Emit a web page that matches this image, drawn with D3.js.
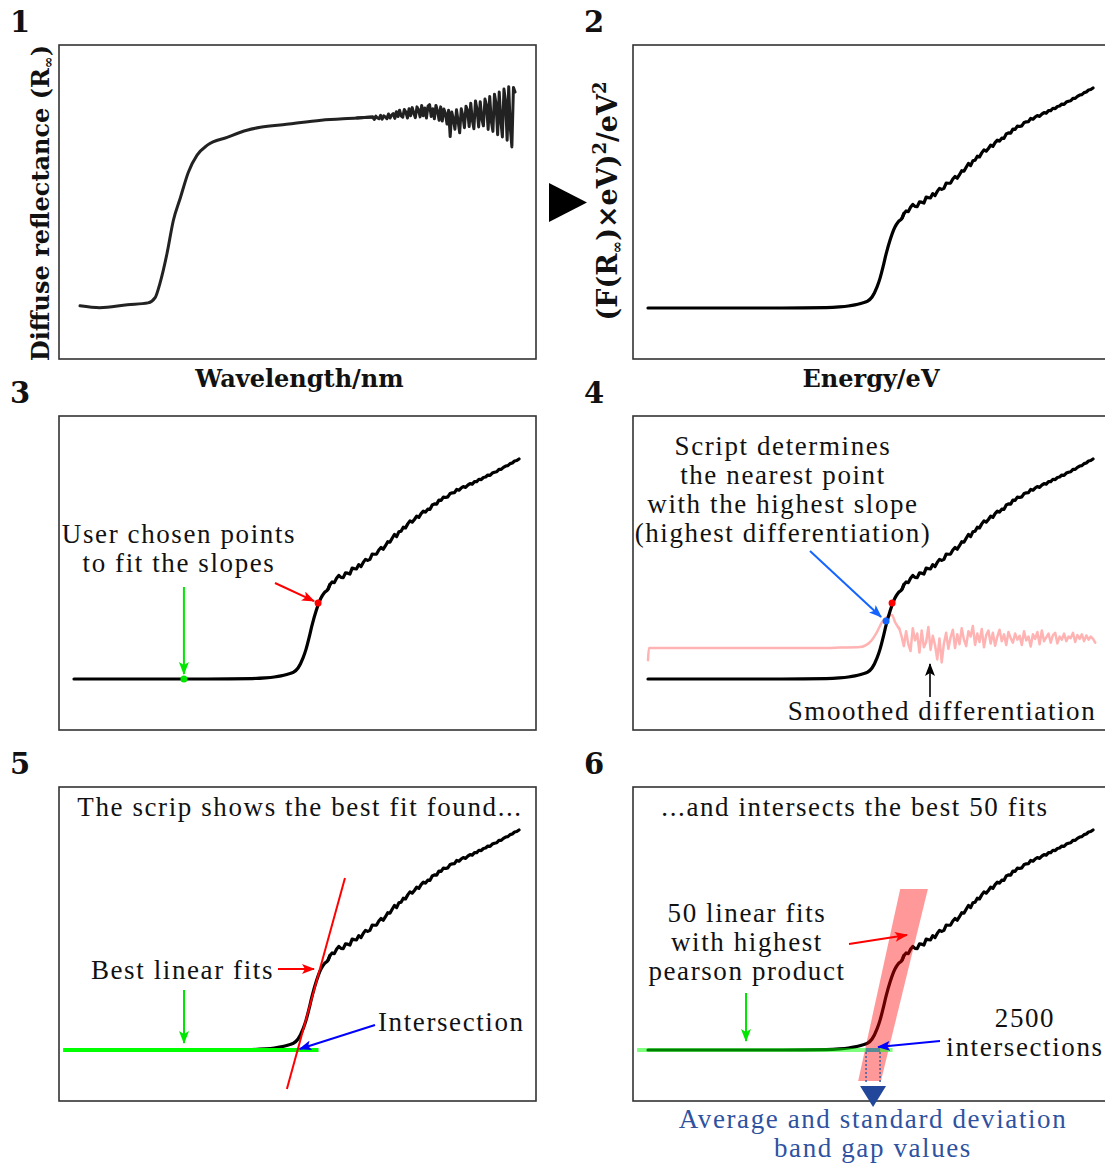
<!DOCTYPE html>
<html>
<head>
<meta charset="utf-8">
<title>Band gap from diffuse reflectance</title>
<script src="https://d3js.org/d3.v7.min.js"></script>
<style>
  body { margin: 0; background: #fff; }
  .note { font-family: "Liberation Serif", "Times New Roman", serif; font-size: 27px; letter-spacing: 1.6px; fill: #111; }
  .lab { font-family: "DejaVu Serif", serif; font-weight: bold; font-size: 24px; fill: #111; }
  .num { font-family: "DejaVu Serif", serif; font-weight: bold; font-size: 29px; fill: #111; }
</style>
</head>
<body>
<script>
// ---- data ----
// panel 1: diffuse reflectance vs wavelength (nm)
const reflW = [250, 275, 310, 336, 345, 351, 360, 368, 377, 387, 398, 411, 436, 461, 478, 511, 555, 600,
  620, 622, 624, 626, 628, 630, 632, 634, 636, 638, 640, 642, 644, 646, 648, 650, 652, 654, 656, 658,
  660, 662, 664, 666, 668, 670, 672, 674, 676, 678, 680, 682, 684, 686, 688, 690, 692, 694, 696, 698,
  700, 702, 704, 706, 708, 710, 712, 714, 716, 718, 720, 722, 724, 726, 728, 730, 732, 734, 736, 738,
  740, 742, 744, 746, 748, 750, 752, 754, 756, 758, 760, 762, 764, 766, 768, 770, 772, 774, 776, 778,
  780, 782, 784, 786, 788, 790, 792, 794, 796, 798, 800];
const reflR = [0.100, 0.095, 0.103, 0.108, 0.122, 0.160, 0.241, 0.330, 0.392, 0.460, 0.506, 0.533, 0.554, 0.573, 0.581, 0.589, 0.600, 0.606,
  0.609, 0.602, 0.611, 0.606, 0.604, 0.613, 0.603, 0.612, 0.609, 0.604, 0.617, 0.606, 0.614, 0.618, 0.605, 0.623, 0.610, 0.627, 0.612, 0.608,
  0.629, 0.622, 0.606, 0.631, 0.612, 0.634, 0.619, 0.607, 0.636, 0.628, 0.609, 0.640, 0.612, 0.633, 0.606, 0.638, 0.642, 0.610, 0.631, 0.604,
  0.640, 0.625, 0.600, 0.636, 0.598, 0.630, 0.618, 0.590, 0.627, 0.556, 0.622, 0.604, 0.576, 0.628, 0.598, 0.566, 0.631, 0.612, 0.580, 0.638,
  0.626, 0.583, 0.646, 0.600, 0.577, 0.652, 0.628, 0.582, 0.650, 0.604, 0.585, 0.657, 0.640, 0.575, 0.664, 0.598, 0.570, 0.670, 0.645, 0.561,
  0.676, 0.600, 0.555, 0.684, 0.650, 0.546, 0.690, 0.580, 0.528, 0.688, 0.676];
const reflSmoothEnd = 18; // index where the noisy tail begins

// panels 2-6: Tauc plot, energy (eV) vs (F(R)*E)^2, normalised
const taucE = [2.00, 2.30, 2.60, 2.80, 2.86, 2.90, 2.93, 2.96, 2.985, 3.007, 3.029, 3.043, 3.056, 3.070, 3.088, 3.110, 3.125, 3.142,
  3.15, 3.16, 3.17, 3.18, 3.19, 3.20, 3.21, 3.22, 3.23, 3.24, 3.25, 3.26, 3.27, 3.28, 3.29, 3.30, 3.31, 3.32, 3.33, 3.34,
  3.35, 3.36, 3.37, 3.38, 3.39, 3.40, 3.41, 3.42, 3.43, 3.44, 3.45, 3.46, 3.47, 3.48, 3.49, 3.50, 3.51, 3.52, 3.53, 3.54,
  3.55, 3.56, 3.57, 3.58, 3.59, 3.60, 3.61, 3.62, 3.63, 3.64, 3.65, 3.66, 3.67, 3.68, 3.69, 3.70, 3.71, 3.72, 3.73, 3.74,
  3.75, 3.76, 3.77, 3.78, 3.79, 3.80, 3.81, 3.82, 3.83, 3.84, 3.85, 3.86, 3.87, 3.88, 3.89, 3.90, 3.91, 3.92, 3.93, 3.94,
  3.95, 3.96, 3.97, 3.98, 3.99, 4.00];
const taucV = [0, 0, 0, 0.002, 0.005, 0.009, 0.014, 0.022, 0.030, 0.050, 0.095, 0.136, 0.186, 0.245, 0.309, 0.368, 0.392, 0.409,
  0.429, 0.441, 0.438, 0.458, 0.471, 0.462, 0.461, 0.482, 0.481, 0.477, 0.504, 0.502, 0.501, 0.520, 0.511, 0.530, 0.544, 0.539, 0.544, 0.568,
  0.567, 0.568, 0.586, 0.598, 0.590, 0.606, 0.624, 0.622, 0.640, 0.657, 0.647, 0.669, 0.672, 0.690, 0.687, 0.705, 0.719, 0.713, 0.725, 0.740,
  0.735, 0.752, 0.763, 0.759, 0.772, 0.771, 0.791, 0.796, 0.795, 0.813, 0.812, 0.827, 0.825, 0.828, 0.843, 0.846, 0.847, 0.862, 0.858, 0.868,
  0.875, 0.871, 0.881, 0.888, 0.886, 0.897, 0.897, 0.908, 0.906, 0.916, 0.918, 0.927, 0.926, 0.936, 0.940, 0.942, 0.953, 0.953, 0.962, 0.968,
  0.970, 0.979, 0.982, 0.991, 0.993, 1.000];
const taucSmoothEnd = 18;

// panel 4: smoothed differentiation
const derivE = [2.000, 2.004, 2.50, 2.80, 2.863, 2.953, 2.998, 3.029, 3.052, 3.074, 3.097, 3.110, 3.124,
  3.13, 3.14, 3.15, 3.16, 3.17, 3.18, 3.19, 3.20, 3.21, 3.22, 3.23, 3.24, 3.25, 3.26, 3.27, 3.28, 3.29, 3.30,
  3.31, 3.32, 3.33, 3.34, 3.35, 3.36, 3.37, 3.38, 3.39, 3.40, 3.41, 3.42, 3.43, 3.44, 3.45, 3.46, 3.47, 3.48,
  3.49, 3.50, 3.51, 3.52, 3.53, 3.54, 3.55, 3.56, 3.57, 3.58, 3.59, 3.60, 3.61, 3.62, 3.63, 3.64, 3.65, 3.66,
  3.67, 3.68, 3.69, 3.70, 3.71, 3.72, 3.73, 3.74, 3.75, 3.76, 3.77, 3.78, 3.79, 3.80, 3.81, 3.82, 3.83, 3.84,
  3.85, 3.86, 3.87, 3.88, 3.89, 3.90, 3.91, 3.92, 3.93, 3.94, 3.95, 3.96, 3.97, 3.98, 3.99, 4.00, 4.01];
const derivD = [-0.32, 0, 0, 0, 0.01, 0.026, 0.158, 0.421, 0.684, 0.816, 0.868, 0.684, 0.553,
  0.50, 0.30, 0.05, 0.44, 0.10, -0.08, 0.52, 0.20, 0.38, -0.12, 0.46, 0.02, 0.15, 0.55, -0.05, 0.32, 0.08, -0.30,
  0.25, -0.38, 0.12, 0.40, -0.02, 0.28, 0.48, 0.00, 0.36, 0.10, 0.52, 0.22, 0.05, 0.44, 0.30, 0.58, 0.08, 0.38,
  0.16, 0.50, 0.02, 0.34, 0.46, 0.12, 0.40, 0.06, 0.30, 0.48, 0.18, 0.36, 0.08, 0.42, 0.26, 0.14, 0.38, 0.22,
  0.32, 0.08, 0.44, 0.20, 0.30, 0.04, 0.36, 0.24, 0.42, 0.10, 0.46, 0.18, 0.28, 0.38, 0.14, 0.34, 0.40, 0.12,
  0.30, 0.22, 0.38, 0.18, 0.30, 0.26, 0.40, 0.16, 0.34, 0.24, 0.36, 0.18, 0.33, 0.22, 0.30, 0.24, 0.14];
const derivSmoothEnd = 13;

// user chosen points [E, v] and script-found point
const userPoints = [[2.494, 0], [3.097, 0.345]];
const slopePoint = [3.070, 0.264];

// fits: v = slope * (E - e0)
const bestFit = { slope: 3.674, e0: 3.005, vRange: [-0.177, 0.782] };
const baseFit = { eRange: [1.951, 3.099], v: 0 };
const bandFits = [{ slope: 4.619, e0: 2.975 }, { slope: 4.137, e0: 3.081 }];
const bandVRange = [-0.141, 0.732];
const intersectE = [2.980, 3.043];

// ---- layout ----
const W = 1105, H = 1164;
const panelW = 477, panelH = 314;
const cols = [59, 633], rows = [45, 416, 787];

const svg = d3.select("body").append("svg").attr("width", W).attr("height", H);

const defs = svg.append("defs");
const heads = { red: "#ff0000", green: "#00e600", blue: "#0000ff", lblue: "#1464ff", black: "#000" };
Object.entries(heads).forEach(([k, c]) => {
  defs.append("marker").attr("id", "head-" + k)
    .attr("viewBox", "0 -5 13 10").attr("refX", 12).attr("refY", 0)
    .attr("markerWidth", 13).attr("markerHeight", 10)
    .attr("markerUnits", "userSpaceOnUse").attr("orient", "auto")
    .append("path").attr("d", "M0,-5L13,0L0,5L3,0Z").attr("fill", c);
});

const xE = d3.scaleLinear().domain([1.9326, 4.0764]).range([0, panelW]);
const yV = d3.scaleLinear().domain([-0.2318, 1.1955]).range([panelH, 0]);
const yD = d3.scaleLinear().domain([-2.1579, 6.1053]).range([panelH, 0]);
const xW = d3.scaleLinear().domain([223.45, 826.5]).range([0, panelW]);
const yR = d3.scaleLinear().domain([-0.0432, 0.8027]).range([panelH, 0]);

const tauc = taucE.map((e, i) => [e, taucV[i]]);
const deriv = derivE.map((e, i) => [e, derivD[i]]);
const refl = reflW.map((w, i) => [w, reflR[i]]);

// smooth part drawn with a monotone curve, the noisy tail with straight segments
function twoPart(g, data, split, x, y, color, w) {
  const smooth = d3.line().x(d => x(d[0])).y(d => y(d[1])).curve(d3.curveMonotoneX);
  const rough = d3.line().x(d => x(d[0])).y(d => y(d[1]));
  [[data.slice(0, split + 1), smooth], [data.slice(split - 1), rough]].forEach(([part, gen]) => {
    g.append("path").datum(part).attr("d", gen)
      .attr("fill", "none").attr("stroke", color).attr("stroke-width", w)
      .attr("stroke-linejoin", "round").attr("stroke-linecap", "round");
  });
}

function panel(col, row, num) {
  svg.append("text").attr("class", "num").attr("x", cols[col] - 39).attr("y", rows[row] - 13)
    .attr("text-anchor", "middle").text(num);
  const g = svg.append("g").attr("transform", `translate(${cols[col]},${rows[row]})`);
  g.append("rect").attr("width", panelW).attr("height", panelH)
    .attr("fill", "none").attr("stroke", "#333").attr("stroke-width", 1.6);
  return g;
}

function drawTauc(g) {
  twoPart(g, tauc, taucSmoothEnd, xE, yV, "#000", 3.2);
}

function arrow(g, x1, y1, x2, y2, color, w) {
  g.append("line").attr("x1", x1).attr("y1", y1).attr("x2", x2).attr("y2", y2)
    .attr("stroke", heads[color]).attr("stroke-width", w || 2)
    .attr("marker-end", `url(#head-${color})`);
}

function note(g, x, y, lines, anchor, color) {
  const t = g.append("text").attr("class", "note").attr("text-anchor", anchor || "middle");
  if (color) t.style("fill", color);
  lines.forEach((s, i) => t.append("tspan").attr("x", x).attr("y", y + i * 29).text(s));
  return t;
}

function fitLine(g, f, vr, color, w, op) {
  const pts = vr.map(v => [f.e0 + v / f.slope, v]);
  g.append("line")
    .attr("x1", xE(pts[0][0])).attr("y1", yV(pts[0][1]))
    .attr("x2", xE(pts[1][0])).attr("y2", yV(pts[1][1]))
    .attr("stroke", color).attr("stroke-width", w).attr("opacity", op || 1);
}

// ---- panel 1 ----
const p1 = panel(0, 0, "1");
twoPart(p1, refl, reflSmoothEnd, xW, yR, "#222", 3);
p1.append("text").attr("class", "lab").attr("x", panelW / 2 + 2).attr("y", panelH + 28)
  .attr("text-anchor", "middle").text("Wavelength/nm");
const yl1 = p1.append("text").attr("class", "lab")
  .attr("transform", `translate(-10,${panelH / 2 + 1}) rotate(-90)`).attr("text-anchor", "middle");
yl1.append("tspan").text("Diffuse reflectance (R");
yl1.append("tspan").attr("font-size", 14).attr("dy", 4).text("∞");
yl1.append("tspan").attr("dy", -4).text(")");

// arrow between panels
svg.append("path").attr("d", "M549,183L587,202.5L549,222Z").attr("fill", "#000");

// ---- panel 2 ----
const p2 = panel(1, 0, "2");
drawTauc(p2);
p2.append("text").attr("class", "lab").attr("x", 238).attr("y", panelH + 28)
  .attr("text-anchor", "middle").text("Energy/eV");
const yl2 = p2.append("text").attr("class", "lab").style("font-size", "27px")
  .attr("transform", `translate(-16,${panelH / 2 - 1}) rotate(-90)`).attr("text-anchor", "middle");
yl2.append("tspan").text("(F(R");
yl2.append("tspan").attr("font-size", 15).attr("dy", 5).text("∞");
yl2.append("tspan").attr("dy", -5).text(")×eV)");
yl2.append("tspan").attr("font-size", 18).attr("dy", -11).text("2");
yl2.append("tspan").attr("dy", 11).text("/eV");
yl2.append("tspan").attr("font-size", 18).attr("dy", -11).text("2");

// ---- panel 3 ----
const p3 = panel(0, 1, "3");
drawTauc(p3);
note(p3, 120, 127, ["User chosen points", "to fit the slopes"]);
arrow(p3, xE(userPoints[0][0]), 171, xE(userPoints[0][0]), yV(userPoints[0][1]) - 5, "green", 2);
arrow(p3, 216, 167, xE(userPoints[1][0]) - 4, yV(userPoints[1][1]) - 2, "red", 2);
p3.append("circle").attr("cx", xE(userPoints[0][0])).attr("cy", yV(userPoints[0][1])).attr("r", 3.5).attr("fill", "#00e600");
p3.append("circle").attr("cx", xE(userPoints[1][0])).attr("cy", yV(userPoints[1][1])).attr("r", 3.5).attr("fill", "#ff0000");

// ---- panel 4 ----
const p4 = panel(1, 1, "4");
twoPart(p4, deriv, derivSmoothEnd, xE, yD, "#ffb3b3", 2.5);
drawTauc(p4);
p4.append("circle").attr("cx", xE(userPoints[1][0])).attr("cy", yV(userPoints[1][1])).attr("r", 3.5).attr("fill", "#ff0000");
p4.append("circle").attr("cx", xE(slopePoint[0])).attr("cy", yV(slopePoint[1])).attr("r", 3.5).attr("fill", "#1464ff");
note(p4, 150, 39, ["Script determines", "the nearest point", "with the highest slope", "(highest differentiation)"]);
arrow(p4, 177, 135, xE(slopePoint[0]) - 5, yV(slopePoint[1]) - 4, "lblue", 2);
arrow(p4, 297, 281, 297, 248, "black", 1.6);
note(p4, 309, 304, ["Smoothed differentiation"]);

// ---- panel 5 ----
const p5 = panel(0, 2, "5");
drawTauc(p5);
p5.append("line").attr("x1", xE(baseFit.eRange[0])).attr("x2", xE(baseFit.eRange[1]))
  .attr("y1", yV(baseFit.v)).attr("y2", yV(baseFit.v))
  .attr("stroke", "#00ff00").attr("stroke-width", 4);
fitLine(p5, bestFit, bestFit.vRange, "#ff0000", 2);
note(p5, 241, 29, ["The scrip shows the best fit found..."]);
note(p5, 215, 192, ["Best linear fits"], "end");
arrow(p5, 219, 182, 255, 182, "red", 2);
arrow(p5, 125, 203, 125, 256, "green", 2);
arrow(p5, 316, 238, xE(bestFit.e0) + 2, yV(0) - 1, "blue", 2);
note(p5, 319, 244, ["Intersection"], "start");

// ---- panel 6 ----
const p6 = panel(1, 2, "6");
drawTauc(p6);
const band = bandVRange.map(v => ({ v, e0: bandFits[0].e0 + v / bandFits[0].slope, e1: bandFits[1].e0 + v / bandFits[1].slope }));
p6.append("path").datum(band)
  .attr("d", d3.area().y(d => yV(d.v)).x0(d => xE(d.e0)).x1(d => xE(d.e1)))
  .attr("fill", "#ff0000").attr("opacity", 0.4);
p6.append("line").attr("x1", xE(baseFit.eRange[0])).attr("x2", xE(baseFit.eRange[1]))
  .attr("y1", yV(baseFit.v)).attr("y2", yV(baseFit.v))
  .attr("stroke", "#00ff00").attr("stroke-width", 4).attr("opacity", 0.5);
p6.append("rect").attr("x", xE(intersectE[0])).attr("width", xE(intersectE[1]) - xE(intersectE[0]))
  .attr("y", yV(0) - 2).attr("height", 4).attr("fill", "#4f7aa8").attr("opacity", 0.8);
intersectE.forEach(e => {
  p6.append("line").attr("x1", xE(e)).attr("x2", xE(e)).attr("y1", yV(0) + 2).attr("y2", 296)
    .attr("stroke", "#3a5f9f").attr("stroke-width", 1.5).attr("stroke-dasharray", "2,2");
});
const mid = xE(d3.mean(intersectE));
p6.append("path").attr("d", `M${mid - 13},299L${mid + 13},299L${mid},320Z`).attr("fill", "#22469a");
note(p6, 222, 29, ["...and intersects the best 50 fits"]);
note(p6, 114, 135, ["50 linear fits", "with highest", "pearson product"]);
arrow(p6, 216, 157, 274, 148, "red", 2);
arrow(p6, 113, 206, 113, 254, "green", 2);
arrow(p6, 307, 254, xE(intersectE[1]) - 2, yV(0) - 3, "blue", 2);
note(p6, 392, 240, ["2500", "intersections"]);
note(p6, 240, 341, ["Average and standard deviation", "band gap values"], "middle", "#2f52a0");
</script>
</body>
</html>
